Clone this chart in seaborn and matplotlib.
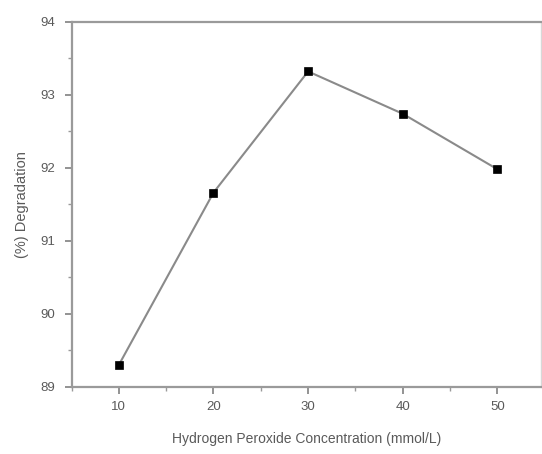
import matplotlib
matplotlib.use("Agg")
import matplotlib.pyplot as plt
from matplotlib.ticker import MultipleLocator
import seaborn as sns
import pandas as pd

concentration = [10, 20, 30, 40, 50]
degradation = [89.30, 91.66, 93.32, 92.74, 91.98]
x_ticks = [10, 20, 30, 40, 50]
y_ticks = [89, 90, 91, 92, 93, 94]

df = pd.DataFrame({"conc": concentration, "deg": degradation})

sns.set_theme(style="white")
plt.rcParams['font.family'] = ['Liberation Sans', 'DejaVu Sans']

fig = plt.figure(figsize=(5.42, 4.54), dpi=100)
ax = fig.add_axes([0.132, 0.148, 0.866, 0.804])

sns.lineplot(data=df, x="conc", y="deg", ax=ax, color="#8a8a8a", linewidth=1.5,
             marker="s", markersize=6.2, markerfacecolor="black",
             markeredgecolor="black", markeredgewidth=0.5)

ax.set_xlim(5, 54.6)
ax.set_ylim(89, 94)
ax.set_xticks(x_ticks)
ax.set_yticks(y_ticks)
ax.xaxis.set_minor_locator(MultipleLocator(5))
ax.yaxis.set_minor_locator(MultipleLocator(0.5))

for s in ax.spines.values():
    s.set_color("#9a9a9a")
    s.set_linewidth(1.6)
    s.set_visible(True)
ax.spines["right"].set_color("#d8d8d8")
ax.spines["right"].set_linewidth(1.0)

ax.tick_params(which="major", direction="out", length=5, width=1.2, color="#808080",
               labelsize=9.5, labelcolor="#5a5a5a", bottom=True, left=True)
ax.tick_params(axis="y", which="major", pad=7)
ax.tick_params(axis="x", which="major", pad=5)
ax.tick_params(which="minor", direction="out", length=3, width=1.0, color="#9a9a9a",
               bottom=True, left=True)

ax.set_xlabel("Hydrogen Peroxide Concentration (mmol/L)", fontsize=10, color="#5a5a5a", labelpad=14)
ax.set_ylabel("(%) Degradation", fontsize=10.5, color="#5a5a5a", labelpad=8)

fig.savefig("out.png", dpi=100, facecolor="white")
